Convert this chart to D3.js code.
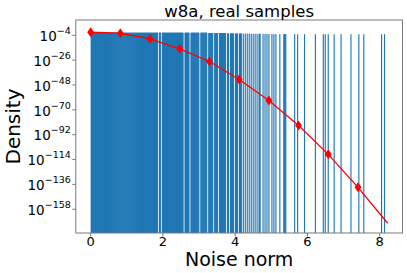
<!DOCTYPE html>
<html>
<head>
<meta charset="utf-8">
<script src="https://cdn.jsdelivr.net/npm/d3@7"></script>
<style>
  body { margin: 0; background: #fff; }
  svg { display: block; }
  text { font-family: "DejaVu Sans", sans-serif; fill: #000; }
</style>
</head>
<body>
<svg id="chart" width="407" height="273"></svg>
<script>
const title = "w8a, real samples";
const xLabel = "Noise norm";
const yLabel = "Density";
const xTicks = [0, 2, 4, 6, 8];
const yTickExps = [-4, -26, -48, -70, -92, -114, -136, -158];

// histogram: 300 bins of width 0.02733 starting at 0; runs of filled bins [first, last, density]
const binWidth = 0.02733;
const barRuns = [
  [0, 67, 0.02], [69, 70, 0.02], [72, 93, 0.02], [95, 99, 0.02], [101, 109, 0.02],
  [111, 117, 0.02], [119, 123, 0.01], [125, 128, 0.01], [130, 136, 0.01], [138, 139, 0.005],
  [141, 144, 0.005], [146, 148, 0.004], [150, 152, 0.004], [154, 154, 0.003], [156, 156, 0.003],
  [158, 158, 0.003], [160, 160, 0.003], [162, 162, 0.002], [164, 164, 0.002], [166, 166, 0.002],
  [168, 168, 0.002], [170, 171, 0.002], [174, 174, 0.002], [176, 176, 0.0015], [178, 178, 0.0015],
  [180, 180, 0.0015], [183, 183, 0.0015], [185, 185, 0.001], [187, 187, 0.001], [191, 191, 0.001],
  [195, 197, 0.001], [206, 206, 0.0008], [209, 209, 0.0008], [216, 216, 0.0008], [227, 227, 0.0008],
  [235, 235, 0.0008], [237, 237, 0.0008], [240, 240, 0.0008], [246, 246, 0.0008], [253, 253, 0.0008],
  [263, 263, 0.0008], [271, 271, 0.0008], [276, 276, 0.0008], [294, 294, 0.0008], [297, 297, 0.0008]
];

// fitted density curve (markers on all but the last point)
const fitX = [0, 0.822, 1.644, 2.466, 3.288, 4.11, 4.932, 5.754, 6.576, 7.398, 8.22];
const fitDensity = [4.5e-2, 6e-3, 6e-8, 1e-16, 6e-28, 8e-44, 2e-62, 1.6e-84, 4e-110, 2.5e-139, 4e-171];

const svg = d3.select("#chart");
const plot = { left: 75.8, right: 402.5, top: 20, bottom: 233 };

const x = d3.scaleLinear().domain([-0.41, 8.63]).range([plot.left, plot.right]);
const y = d3.scaleLog().domain([1e-179, Math.pow(10, 9.5)]).range([plot.bottom, plot.top]);

const bars = [];
barRuns.forEach(([a, b, dens]) => {
  for (let i = a; i <= b; i++) bars.push({ x0: i * binWidth, x1: (i + 1) * binWidth, dens, last: i === b });
});

svg.append("defs").append("clipPath").attr("id", "clip")
  .append("rect")
  .attr("x", plot.left).attr("y", plot.top)
  .attr("width", plot.right - plot.left).attr("height", plot.bottom - plot.top);

const g = svg.append("g").attr("clip-path", "url(#clip)");

// bars inside a run overlap their neighbour a little so no seams show
g.selectAll(".bar")
  .data(bars)
  .enter()
  .append("rect")
  .attr("class", "bar")
  .attr("x", d => x(d.x0))
  .attr("width", d => x(d.x1) - x(d.x0) + (d.last ? 0.15 : 0.6))
  .attr("y", d => y(d.dens))
  .attr("height", d => plot.bottom - y(d.dens))
  .attr("fill", "#1f77b4");

const fit = fitX.map((v, i) => ({ x: v, d: fitDensity[i] }));

g.append("path")
  .datum(fit)
  .attr("fill", "none")
  .attr("stroke", "#ff0000")
  .attr("stroke-width", 1.3)
  .attr("d", d3.line().x(d => x(d.x)).y(d => y(d.d)));

g.selectAll(".marker")
  .data(fit.slice(0, -1))
  .enter()
  .append("path")
  .attr("class", "marker")
  .attr("transform", d => `translate(${x(d.x)},${y(d.d)})`)
  .attr("d", "M0,-5L3.4,0L0,5L-3.4,0Z")
  .attr("fill", "#ff0000");

// frame
svg.append("rect")
  .attr("x", plot.left).attr("y", plot.top)
  .attr("width", plot.right - plot.left).attr("height", plot.bottom - plot.top)
  .attr("fill", "none").attr("stroke", "#7a7a7a").attr("stroke-width", 1);

// x axis
const xt = svg.append("g");
xTicks.forEach(t => {
  xt.append("line")
    .attr("x1", x(t)).attr("x2", x(t))
    .attr("y1", plot.bottom).attr("y2", plot.bottom + 3.5)
    .attr("stroke", "#7a7a7a");
  xt.append("text")
    .attr("x", x(t)).attr("y", plot.bottom + 13)
    .attr("text-anchor", "middle")
    .attr("font-size", 13)
    .attr("fill", "#222")
    .text(t);
});

// y axis
const yt = svg.append("g");
yTickExps.forEach(e => {
  const py = y(Math.pow(10, e));
  yt.append("line")
    .attr("x1", plot.left - 3.5).attr("x2", plot.left)
    .attr("y1", py).attr("y2", py)
    .attr("stroke", "#7a7a7a");
  const txt = yt.append("text")
    .attr("x", plot.left - 5).attr("y", py + 5.7)
    .attr("text-anchor", "end")
    .attr("fill", "#222");
  txt.append("tspan").attr("font-size", 13.5).text("10");
  txt.append("tspan").attr("font-size", 9.5).attr("dy", -7).text("\u2212" + Math.abs(e));
});

svg.append("text")
  .attr("x", (plot.left + plot.right) / 2).attr("y", 16.5)
  .attr("text-anchor", "middle")
  .attr("font-size", 16.5)
  .text(title);

svg.append("text")
  .attr("x", (plot.left + plot.right) / 2).attr("y", 266)
  .attr("text-anchor", "middle")
  .attr("font-size", 19)
  .text(xLabel);

svg.append("text")
  .attr("transform", `translate(20,${(plot.top + plot.bottom) / 2}) rotate(-90)`)
  .attr("text-anchor", "middle")
  .attr("font-size", 20)
  .text(yLabel);
</script>
</body>
</html>
